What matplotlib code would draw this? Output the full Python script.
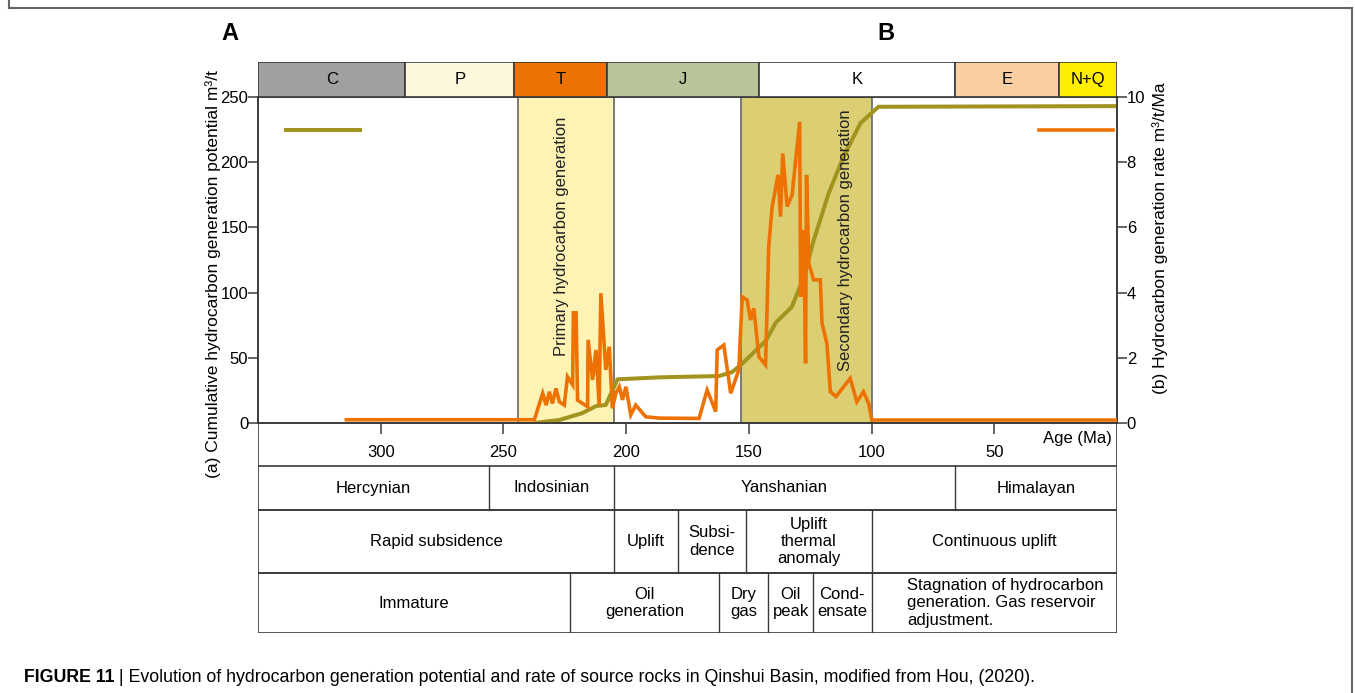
import matplotlib
matplotlib.use("Agg")
import matplotlib.pyplot as plt
from matplotlib.lines import Line2D

# 字体
plt.rcParams['font.family'] = ['Liberation Sans', 'DejaVu Sans']
narrow = ['Liberation Sans Narrow', 'Liberation Sans', 'DejaVu Sans']

W, H = 1355, 693

# 地质年代 (Ma)
period_names = ["C", "P", "T", "J", "K", "E", "N+Q"]
period_bounds = [350, 290, 245.5, 208, 146, 66, 23.5, 0]
period_colors = ["#a0a0a0", "#fdf8dc", "#ee7203", "#b7c598", "#ffffff", "#f9cea3", "#ffee00"]

# 生烃速率 (m3/t/Ma)
rate_age = [314, 237.4, 234.0, 232.6, 231.3, 230.0, 228.6, 227.2, 225.2, 223.9,
            221.8, 221.5, 220.4, 219.8, 215.7, 215.5, 213.7, 212.3, 211.0, 210.3,
            208.3, 206.9, 205.6, 204.2, 202.8, 201.5, 200.1, 198.1, 196.1, 192.0,
            186.6, 170.3, 167.0, 163.5, 162.9, 160.2, 157.4, 154.1, 152.7, 150.7,
            149.3, 148.0, 145.9, 143.2, 141.9, 140.5, 138.1, 137.1, 136.2, 134.4,
            132.4, 129.3, 128.9, 127.6, 126.9, 126.5, 125.6, 123.6, 120.9, 120.2,
            118.2, 116.8, 114.5, 108.7, 106.0, 103.3, 101.2, 99.9, 0]
rate_val = [0.1, 0.1, 0.91, 0.55, 0.96, 0.6, 1.06, 0.65, 0.55, 1.42,
            1.17, 3.38, 3.38, 0.7, 0.5, 2.55, 1.32, 2.24, 0.55, 3.98,
            1.63, 2.34, 0.45, 0.91, 1.11, 0.71, 1.11, 0.25, 0.55, 0.19,
            0.15, 0.14, 1.01, 0.35, 2.24, 2.39, 0.91, 1.63, 3.87, 3.77,
            3.16, 3.52, 2.03, 1.78, 5.41, 6.64, 7.61, 6.33, 8.27, 6.64,
            6.99, 9.24, 3.87, 5.92, 1.83, 7.61, 4.9, 4.39, 4.39, 3.06,
            2.44, 0.96, 0.81, 1.37, 0.65, 0.96, 0.6, 0.09, 0.09]

# 累计生烃潜力 (m3/t)
cum_age = [237.4, 227.2, 218.0, 212.2, 208.3, 203.5, 186.6, 162.2, 156.9, 153.3,
           143.1, 139.0, 132.5, 127.6, 123.6, 117.5, 111.5, 104.5, 97.2, 0]
cum_val = [0, 2.3, 7.5, 13, 13.8, 33.5, 35, 36, 39, 44.5,
           63, 77, 89, 112, 140, 176, 204, 230, 242.5, 243]

# 生烃阶段
primary_span = (244, 205)
secondary_span = (153, 100)

# 下方表格
tect_names = ["Hercynian", "Indosinian", "Yanshanian", "Himalayan"]
tect_bounds = [350, 256, 205, 66, 0]
move_names = ["Rapid subsidence", "Uplift", "Subsi-\ndence", "Uplift\nthermal\nanomaly", "Continuous uplift"]
move_bounds = [350, 205, 179, 151, 100, 0]
stage_names = ["Immature", "Oil\ngeneration", "Dry\ngas", "Oil\npeak", "Cond-\nensate",
               "Stagnation of hydrocarbon\ngeneration. Gas reservoir\nadjustment."]
stage_bounds = [350, 223, 162, 142, 124, 100, 0]

x_ticks = [300, 250, 200, 150, 100, 50]
left_ticks = [0, 50, 100, 150, 200, 250]
right_ticks = [0, 2, 4, 6, 8, 10]

c_orange = "#ee7203"
c_olive = "#a3931f"
c_edge = "#3a3a3a"
fs = 12

fig = plt.figure(figsize=(W / 100, H / 100), dpi=100)

# 外框
for xs, ys in [([9, 9], [0, 8]), ([9, 1352], [8, 8]), ([1352, 1352], [8, H])]:
    fig.add_artist(Line2D([x / W for x in xs], [1 - y / H for y in ys],
                          color="#666666", lw=1.5))

# 主图
ax = fig.add_axes([258 / W, 1 - 423 / H, 859 / W, 326 / H])
ax.set_xlim(350, 0)
ax.set_ylim(0, 250)
ax.axvspan(*primary_span, facecolor="#fdf3b5", edgecolor="#666666", lw=1.2, zorder=0)
ax.axvspan(*secondary_span, facecolor="#dccf73", edgecolor="#666666", lw=1.2, zorder=0)
ax.plot(cum_age, cum_val, color=c_olive, lw=2.9, solid_capstyle="butt", zorder=3)
ax.text(sum(primary_span) / 2 + 2, 143, "Primary hydrocarbon generation", rotation=90,
        ha="center", va="center", fontsize=12, color="#222222")
ax.text(sum(secondary_span) / 2 - 16, 140, "Secondary hydrocarbon generation", rotation=90,
        ha="center", va="center", fontsize=12, color="#222222")

ax.set_xticks(x_ticks)
ax.set_xticklabels([str(t) for t in x_ticks], family=narrow)
ax.set_yticks(left_ticks)
ax.tick_params(axis="x", direction="out", length=8, width=1.1, pad=8, labelsize=fs, color=c_edge)
ax.tick_params(axis="y", direction="out", length=7, width=1.1, pad=0, labelsize=fs, color=c_edge)
for s in ax.spines.values():
    s.set_color(c_edge)
    s.set_linewidth(1.2)
ax.text(2, -12, "Age (Ma)", ha="right", va="center", fontsize=fs, family=narrow)

ax2 = ax.twinx()
ax2.set_ylim(0, 10)
ax2.plot(rate_age, rate_val, color=c_orange, lw=2.6, solid_joinstyle="miter", zorder=4)
ax2.set_yticks(right_ticks)
ax2.tick_params(axis="y", direction="out", length=7, width=1.1, pad=0, labelsize=fs, color=c_edge)
for s in ax2.spines.values():
    s.set_color(c_edge)
    s.set_linewidth(1.2)

# 图例线
leg1 = ax.legend(handles=[Line2D([], [], color=c_olive, lw=2.9)], labels=[""],
                 loc="upper left", bbox_to_anchor=(0.025, 0.94), frameon=False,
                 handlelength=5.3, handletextpad=0, borderpad=0)
ax.add_artist(leg1)
ax2.legend(handles=[Line2D([], [], color=c_orange, lw=2.6)], labels=[""],
           loc="upper right", bbox_to_anchor=(1.003, 0.94), frameon=False,
           handlelength=5.3, handletextpad=0, borderpad=0)

fig.text(213 / W, 1 - 274 / H, "(a) Cumulative hydrocarbon generation potential m³/t",
         rotation=90, ha="center", va="center", fontsize=12.5)
fig.text(1160 / W, 1 - 238 / H, "(b) Hydrocarbon generation rate m³/t/Ma",
         rotation=90, ha="center", va="center", fontsize=12.5)

# 地层柱
axp = fig.add_axes([258 / W, 1 - 97 / H, 859 / W, 35 / H])
axp.set_xlim(350, 0)
axp.set_ylim(0, 1)
axp.axis("off")
for i, name in enumerate(period_names):
    a0, a1 = period_bounds[i], period_bounds[i + 1]
    axp.barh(0.5, a1 - a0, left=a0, height=1, color=period_colors[i],
             edgecolor=c_edge, lw=1.2)
    axp.text((a0 + a1) / 2, 0.5, name, ha="center", va="center", fontsize=fs, family=narrow)

# 表格
axt = fig.add_axes([258 / W, 1 - 633 / H, 859 / W, 210 / H])
axt.set_xlim(350, 0)
axt.set_ylim(210, 0)
axt.axis("off")
axt.plot([350, 350], [0, 210], color=c_edge, lw=1.2)
axt.plot([0, 0], [0, 210], color=c_edge, lw=1.2)
rows = [(tect_names, tect_bounds, 43, 87), (move_names, move_bounds, 87, 150),
        (stage_names, stage_bounds, 150, 210)]
for names, bounds, y0, y1 in rows:
    axt.plot([350, 0], [y0, y0], color=c_edge, lw=1.2)
    axt.plot([350, 0], [y1, y1], color=c_edge, lw=1.2)
    for b in bounds[1:-1]:
        axt.plot([b, b], [y0, y1], color=c_edge, lw=1)
    for i, name in enumerate(names):
        a0, a1 = bounds[i], bounds[i + 1]
        if name.startswith("Stagnation"):
            axt.text(a0 - 14.5, (y0 + y1) / 2, name, ha="left", va="center",
                     fontsize=fs, family=narrow, linespacing=1.2)
        else:
            axt.text((a0 + a1) / 2, (y0 + y1) / 2, name, ha="center", va="center",
                     fontsize=fs, family=narrow, linespacing=1.2)

fig.text(230 / W, 1 - 33 / H, "A", ha="center", va="center", fontsize=17, weight="bold")
fig.text(886 / W, 1 - 33 / H, "B", ha="center", va="center", fontsize=17, weight="bold")

# 图题
t1 = fig.text(24 / W, 1 - 677 / H, "FIGURE 11", ha="left", va="center",
              fontsize=12.8, weight="bold")
fig.canvas.draw()
bb = t1.get_window_extent()
fig.text(bb.x1 / W, 1 - 677 / H,
         " | Evolution of hydrocarbon generation potential and rate of source rocks "
         "in Qinshui Basin, modified from Hou, (2020).",
         ha="left", va="center", fontsize=12.8)

fig.savefig("out.png", dpi=100)
